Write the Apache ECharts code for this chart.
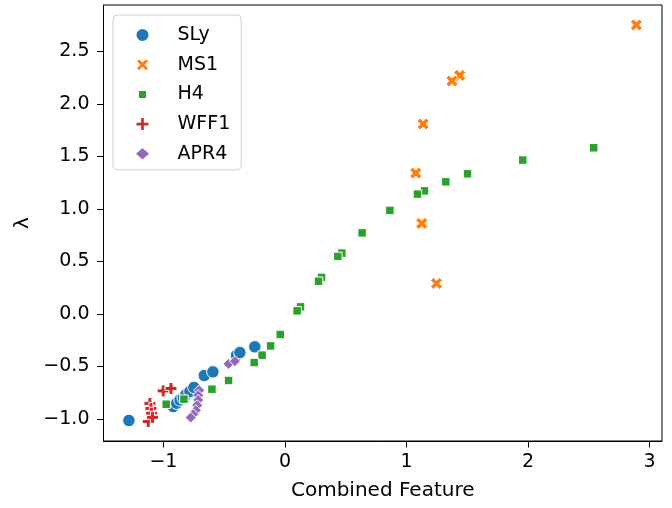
<!DOCTYPE html>
<html>
<head>
<meta charset="utf-8">
<script src="https://cdn.jsdelivr.net/npm/echarts@6/dist/echarts.min.js"></script>
<style>html,body{margin:0;padding:0;background:#fff}#c{width:672px;height:508px}</style>
</head>
<body>
<div id="c"></div>
<script>
// ---- data (x = Combined Feature, y = lambda) ----
const SLy = [[-1.284,-1.015],[-0.919,-0.882],[-0.891,-0.85],[-0.864,-0.82],[-0.837,-0.80],[-0.815,-0.77],[-0.782,-0.739],[-0.749,-0.70],[-0.664,-0.587],[-0.593,-0.552],[-0.398,-0.393],[-0.371,-0.368],[-0.248,-0.314]];
const MS1 = [[2.891,2.75],[1.438,2.27],[1.373,2.216],[1.137,1.807],[1.076,1.34],[1.126,0.861],[1.247,0.29]];
const H4 = [[2.54,1.581],[1.956,1.464],[1.502,1.333],[1.323,1.257],[1.148,1.171],[1.09,1.14],[0.863,0.985],[0.635,0.771],[0.468,0.578],[0.435,0.547],[0.301,0.347],[0.276,0.311],[0.128,0.067],[0.10,0.029],[-0.039,-0.196],[-0.118,-0.305],[-0.188,-0.393],[-0.253,-0.463],[-0.464,-0.634],[-0.601,-0.717],[-0.831,-0.812],[-0.977,-0.86]];
const WFF1 = [[-1.125,-1.025],[-1.111,-0.853],[-1.103,-0.90],[-1.099,-0.945],[-1.09,-0.985],[-1.002,-0.733],[-0.938,-0.71]];
const APR4 = [[-0.464,-0.476],[-0.412,-0.45],[-0.706,-0.727],[-0.714,-0.774],[-0.714,-0.82],[-0.722,-0.87],[-0.733,-0.917],[-0.755,-0.955],[-0.776,-0.987]];
const seriesNames = ['SLy','MS1','H4','WFF1','APR4'];
const xTicks = [-1,0,1,2,3];
const yTicks = [-1.0,-0.5,0.0,0.5,1.0,1.5,2.0,2.5];

const colors = ['#1f77b4','#ff7f0e','#2ca02c','#d62728','#9467bd'];
const X_PATH = 'path://M1,0L2,1L3,0L4,1L3,2L4,3L3,4L2,3L1,4L0,3L1,2L0,1Z';
const P_PATH = 'path://M2,0H4V2H6V4H4V6H2V4H0V2H2Z';
const SQ_LEG = 'path://M0,0h0.01v0.01h-0.01zM14,14h0.01v0.01h-0.01zM2.5,2.5h9v9h-9z';
const symbols = ['circle', X_PATH, 'rect', P_PATH, 'diamond'];
const sizes = [12.5, 12, 8.5, 12, 11];
const legendIcons = ['circle', X_PATH, SQ_LEG, P_PATH, 'diamond'];
const datasets = [SLy, MS1, H4, WFF1, APR4];

const FONT = 'DejaVu Sans';
const minus = s => s.replace('-', '\u2212');

const chart = echarts.init(document.getElementById('c'), null, {renderer: 'canvas'});
chart.setOption({
  animation: false,
  backgroundColor: '#fff',
  grid: {left: 103.5, right: 10, top: 5, bottom: 67, show: true, borderColor: '#000', borderWidth: 1, backgroundColor: 'transparent'},
  legend: {
    orient: 'vertical',
    left: 113, top: 15,
    padding: [10, 11, 6, 20.5],
    itemWidth: 16, itemHeight: 14, itemGap: 9.7,
    backgroundColor: '#fff',
    borderColor: '#d0d0d0', borderWidth: 1, borderRadius: 4,
    textStyle: {fontFamily: FONT, fontSize: 19, color: '#000', lineHeight: 20, padding: [0,0,0,22]},
    data: seriesNames.map((n, i) => ({name: n, icon: legendIcons[i]}))
  },
  xAxis: {
    type: 'value', min: -1.493, max: 3.102,
    name: 'Combined Feature', nameLocation: 'middle', nameGap: 40,
    nameTextStyle: {fontFamily: FONT, fontSize: 20, color: '#000'},
    axisLine: {show: true, onZero: false, lineStyle: {color: '#000', width: 1}},
    axisTick: {show: true, length: 6.5, lineStyle: {color: '#000', width: 1}, customValues: xTicks},
    axisLabel: {fontFamily: FONT, fontSize: 19, color: '#000', margin: 12, customValues: xTicks, formatter: v => minus(String(Math.round(v)))},
    splitLine: {show: false}
  },
  yAxis: {
    type: 'value', min: -1.21, max: 2.94,
    name: '\u03bb', nameLocation: 'middle', nameGap: 70, nameRotate: 90,
    nameTextStyle: {fontFamily: FONT, fontSize: 20, color: '#000'},
    axisLine: {show: true, onZero: false, lineStyle: {color: '#000', width: 1}},
    axisTick: {show: true, length: 6.5, lineStyle: {color: '#000', width: 1}, customValues: yTicks},
    axisLabel: {fontFamily: FONT, fontSize: 19, color: '#000', margin: 14, customValues: yTicks, formatter: v => minus(v.toFixed(1))},
    splitLine: {show: false}
  },
  series: datasets.map((d, i) => ({
    name: seriesNames[i],
    type: 'scatter',
    data: d,
    symbol: symbols[i],
    symbolSize: sizes[i],
    itemStyle: {color: colors[i], borderColor: '#fff', borderWidth: 1, opacity: 1},
    emphasis: {disabled: true}
  }))
});
</script>
</body>
</html>
